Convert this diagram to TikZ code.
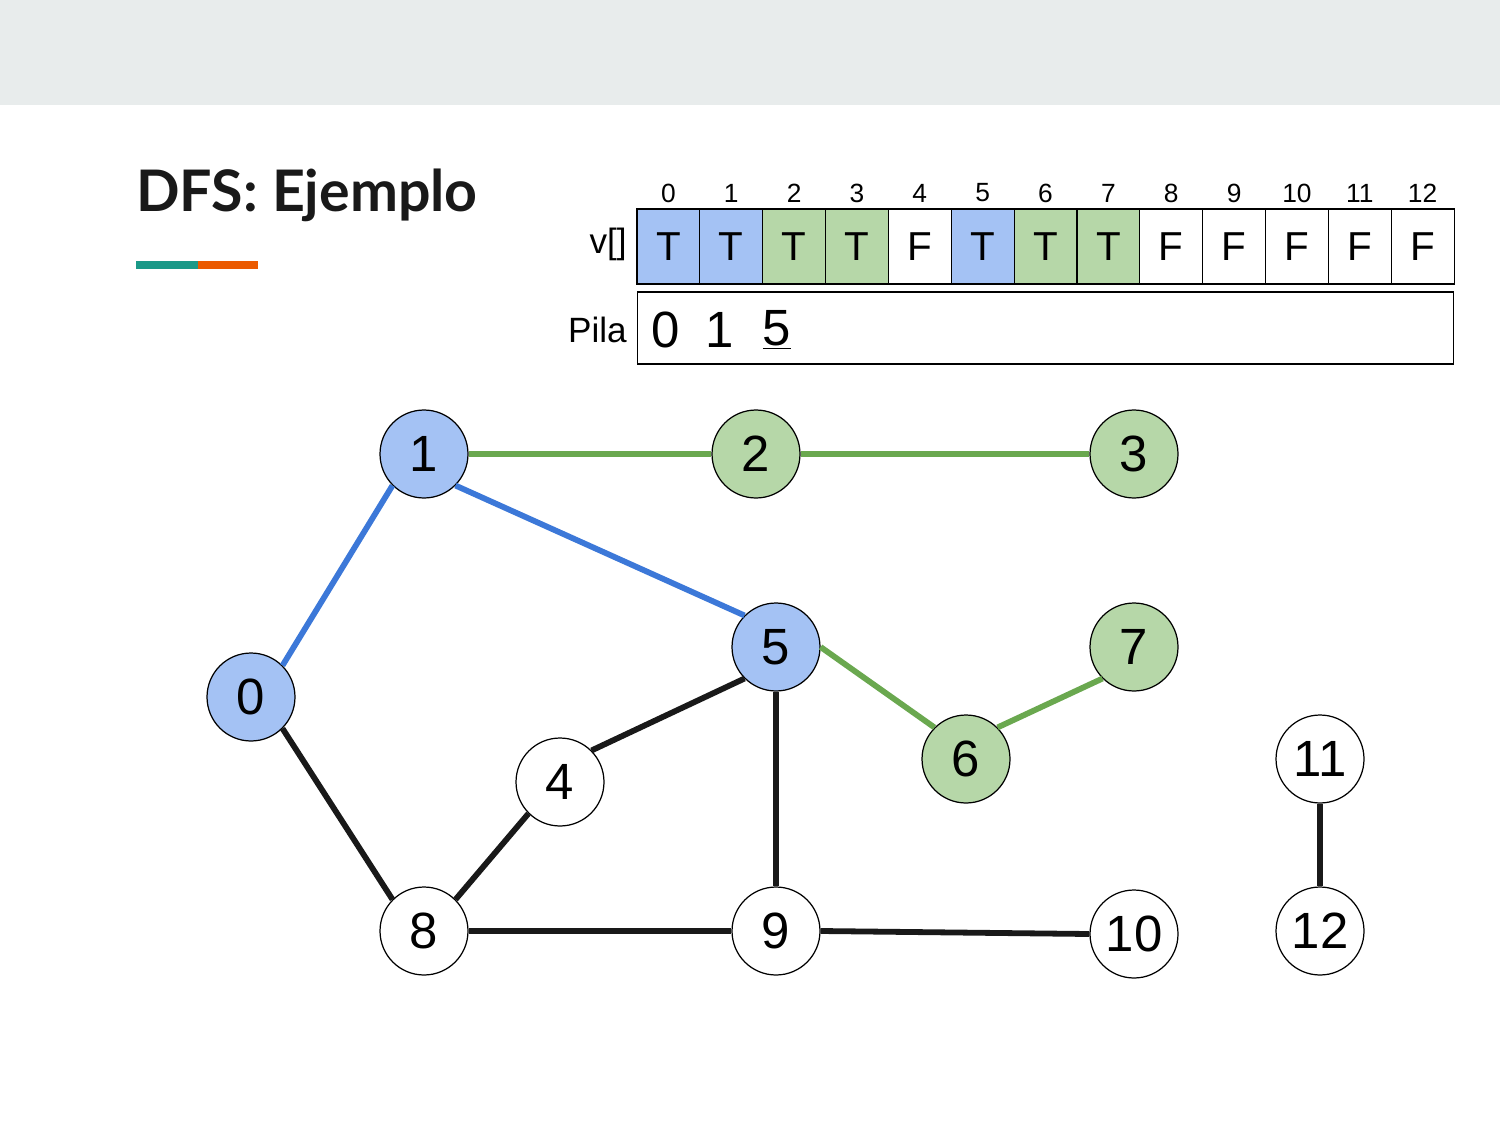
\documentclass[tikz,border=0pt]{standalone}
\usepackage{fontspec}
\setmainfont{Liberation Sans}
\newfontfamily\titlefont{Lato}
\usepackage{tikz}
\usetikzlibrary{arrows.meta}

\definecolor{bandgray}{HTML}{E8ECEC}
\definecolor{visitblue}{HTML}{A4C2F4}
\definecolor{visitgreen}{HTML}{B6D7A8}
\definecolor{edgeblue}{HTML}{3C78D8}
\definecolor{edgegreen}{HTML}{6AA84F}
\definecolor{barteal}{HTML}{1A9988}
\definecolor{barorange}{HTML}{EB5A00}

\tikzset{
    vertex/.style = {circle, draw=black, line width=0.7pt, fill=white, minimum size=1.76cm, inner sep=0pt, font={\fontsize{29}{29}\selectfont}},
    bluevertex/.style = {vertex, fill=visitblue},
    greenvertex/.style = {vertex, fill=visitgreen},
    cell/.style = {rectangle, draw=black, line width=0.6pt, fill=white, minimum width=1.257cm, minimum height=1.5cm, inner sep=0pt, font={\fontsize{23}{23}\selectfont}},
    idx/.style = {font={\fontsize{15}{15}\selectfont}},
    edge/.style = {line width=3.3pt, color=black!90},
    blueedge/.style = {line width=3.3pt, color=edgeblue},
    greenedge/.style = {line width=3.3pt, color=edgegreen}
}

\begin{document}
\begin{tikzpicture}[x=0.02cm, y=-0.02cm]
        \useasboundingbox (0, 0) rectangle (1500, 1125);
        \fill[bandgray] (0, 0) rectangle (1500, 105);

        % titulo
        \node[anchor=base west, inner sep=0pt, font={\titlefont\bfseries\fontsize{32.6}{32.6}\selectfont}, black!90] (titulo) at (136, 212) {DFS: Ejemplo};
        \fill[barteal] (136, 261) rectangle (198, 269);
        \fill[barorange] (198, 261) rectangle (258, 269);

        % arreglo v[]
        \node[idx] (i0) at (668.4, 193) {0};
        \node[idx] (i1) at (731.3, 193) {1};
        \node[idx] (i2) at (794.1, 193) {2};
        \node[idx] (i3) at (857.0, 193) {3};
        \node[idx] (i4) at (919.8, 193) {4};
        \node[idx] (i5) at (982.7, 193) {5};
        \node[idx] (i6) at (1045.5, 193) {6};
        \node[idx] (i7) at (1108.4, 193) {7};
        \node[idx] (i8) at (1171.2, 193) {8};
        \node[idx] (i9) at (1234.1, 193) {9};
        \node[idx] (i10) at (1296.9, 193) {10};
        \node[idx] (i11) at (1359.8, 193) {11};
        \node[idx] (i12) at (1422.6, 193) {12};

        \node[cell, fill=visitblue] (v0) at (668.4, 246.5) {T};
        \node[cell, fill=visitblue] (v1) at (731.3, 246.5) {T};
        \node[cell, fill=visitgreen] (v2) at (794.1, 246.5) {T};
        \node[cell, fill=visitgreen] (v3) at (857.0, 246.5) {T};
        \node[cell] (v4) at (919.8, 246.5) {F};
        \node[cell, fill=visitblue] (v5) at (982.7, 246.5) {T};
        \node[cell, fill=visitgreen] (v6) at (1045.5, 246.5) {T};
        \node[cell, fill=visitgreen] (v7) at (1108.4, 246.5) {T};
        \node[cell] (v8) at (1171.2, 246.5) {F};
        \node[cell] (v9) at (1234.1, 246.5) {F};
        \node[cell] (v10) at (1296.9, 246.5) {F};
        \node[cell] (v11) at (1359.8, 246.5) {F};
        \node[cell] (v12) at (1422.6, 246.5) {F};
        \node[anchor=east, font={\fontsize{20}{20}\selectfont}, inner sep=0pt] (vlabel) at (627, 244) {v[]};

        % pila
        \node[rectangle, draw=black, line width=0.6pt, minimum width=16.34cm, minimum height=1.44cm, inner sep=0pt] (pila) at (1045.5, 328) {};
        \node[anchor=east, font={\fontsize{20}{20}\selectfont}, inner sep=0pt] (pilalabel) at (627, 330) {Pila};
        \node[font={\fontsize{29}{29}\selectfont}] (p0) at (666, 330) {0};
        \node[font={\fontsize{29}{29}\selectfont}] (p1) at (720, 330) {1};
        \node[font={\fontsize{29}{29}\selectfont}] (p5) at (777, 330) {\underline{5}};

        % grafo
        \node[bluevertex] (n0) at (251, 697) {0};
        \node[bluevertex] (n1) at (424, 454) {1};
        \node[greenvertex] (n2) at (756, 454) {2};
        \node[greenvertex] (n3) at (1134, 454) {3};
        \node[vertex] (n4) at (560, 782) {4};
        \node[bluevertex] (n5) at (776, 647) {5};
        \node[greenvertex] (n6) at (966, 759) {6};
        \node[greenvertex] (n7) at (1134, 647) {7};
        \node[vertex] (n8) at (424, 931) {8};
        \node[vertex] (n9) at (776, 931) {9};
        \node[vertex] (n10) at (1134, 934) {10};
        \node[vertex] (n11) at (1320, 759) {11};
        \node[vertex] (n12) at (1320, 931) {12};

        \draw[blueedge] (n0.north east) -- (n1.south west);
        \draw[blueedge] (n1.south east) -- (n5.north west);
        \draw[greenedge] (n1.east) -- (n2.west);
        \draw[greenedge] (n2.east) -- (n3.west);
        \draw[greenedge] (n5.east) -- (n6.north west);
        \draw[greenedge] (n6.north east) -- (n7.south west);
        \draw[edge] (n4.north east) -- (n5.south west);
        \draw[edge] (n5.south) -- (n9.north);
        \draw[edge] (n0.south east) -- (n8.north west);
        \draw[edge] (n8.north east) -- (n4.south west);
        \draw[edge] (n8.east) -- (n9.west);
        \draw[edge] (n9.east) -- (n10.west);
        \draw[edge] (n11.south) -- (n12.north);
    \end{tikzpicture}
\end{document}
